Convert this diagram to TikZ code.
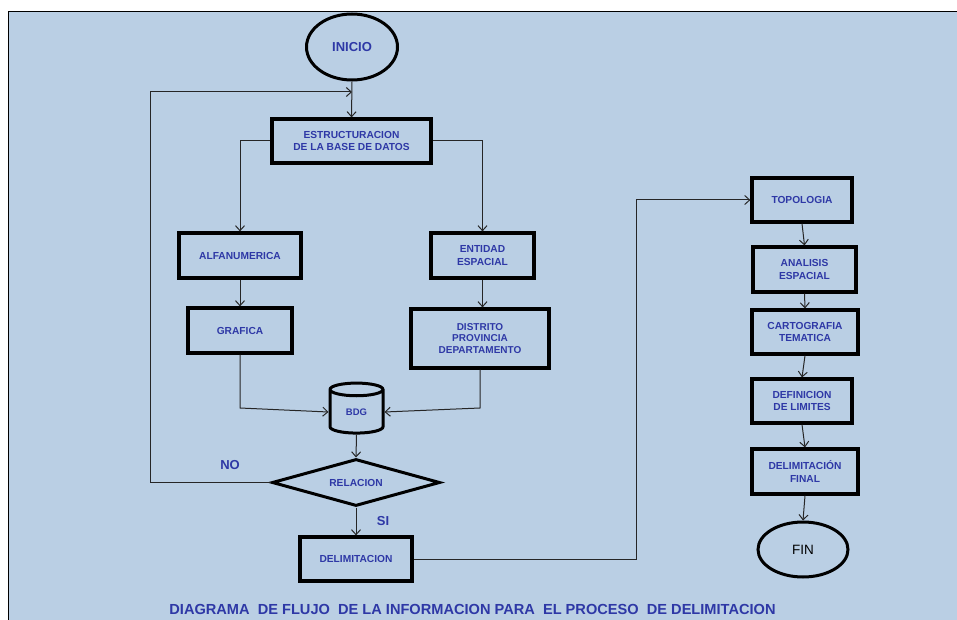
\documentclass[tikz,border=0pt]{standalone}
\usepackage{fontspec}
\setmainfont{Liberation Sans}
\usetikzlibrary{arrows.meta,shapes.geometric,positioning}
\definecolor{bgblue}{RGB}{186,207,228}
\definecolor{txtblue}{RGB}{46,56,166}
\begin{document}
\begin{tikzpicture}[x=1pt,y=-1pt,
  font=\bfseries\fontsize{10.2}{12.6}\selectfont,
  box/.style={draw=black,line width=3.2pt,rectangle,text=txtblue,align=center,inner sep=0pt},
  term/.style={draw=black,line width=3pt,ellipse,inner sep=0pt,font=\bfseries\fontsize{13}{15}\selectfont},
  conn/.style={draw=black!85,line width=1pt},
  arr/.style={conn,-{Straight Barb[length=5pt,width=9pt]}},
  lbl/.style={text=txtblue,font=\bfseries\fontsize{13}{15}\selectfont}]
\useasboundingbox (0,0) rectangle (957,620);
\fill[bgblue] (8,11) rectangle (957,620);
\draw[black,line width=0.8pt] (8,620) -- (8,11) -- (957,11);

% nodes
\node[term,text=txtblue,minimum width=91pt,minimum height=66pt] (inicio) at (352,47) {INICIO};
\node[box,minimum width=159pt,minimum height=44pt] (estr) at (351.5,141) {ESTRUCTURACION\\DE LA BASE DE DATOS};
\node[box,minimum width=122pt,minimum height=45pt] (alfa) at (240,255.5) {ALFANUMERICA};
\node[box,minimum width=104pt,minimum height=45pt] (graf) at (240,330.5) {GRAFICA};
\node[box,minimum width=103pt,minimum height=45pt] (ent) at (482.5,255.5) {ENTIDAD\\ESPACIAL};
\node[box,minimum width=138pt,minimum height=59pt,font=\bfseries\fontsize{10}{11.8}\selectfont] (dist) at (480,338.5) {DISTRITO\\PROVINCIA\\DEPARTAMENTO};
\node[draw=black,line width=3pt,cylinder,shape border rotate=90,aspect=0.6,minimum width=53pt,minimum height=50pt,inner sep=0pt,text=txtblue,font=\bfseries\fontsize{9.5}{11}\selectfont] (bdg) at (356.5,412) {BDG};
\node[draw=black,line width=3pt,diamond,aspect=3.5,minimum width=168pt,minimum height=47pt,inner sep=0pt,text=txtblue] (rel) at (356,482.5) {RELACION};
\node[box,minimum width=112pt,minimum height=44pt] (delim) at (356,559) {DELIMITACION};

\node[box,minimum width=100pt,minimum height=44pt] (topo) at (802,200) {TOPOLOGIA};
\node[box,minimum width=103pt,minimum height=45pt] (anal) at (804.5,269.5) {ANALISIS\\ESPACIAL};
\node[box,minimum width=106pt,minimum height=44pt] (carto) at (805,332) {CARTOGRAFIA\\TEMATICA};
\node[box,minimum width=100pt,minimum height=44pt] (defi) at (802,401) {DEFINICION\\DE LIMITES};
\node[box,minimum width=106pt,minimum height=45pt] (dfin) at (805,471.5) {DELIMITACIÓN\\FINAL};
\node[term,text=black,font=\fontsize{13.5}{15}\selectfont,minimum width=90pt,minimum height=55pt] (fin) at (803,549.5) {FIN};

% labels
\node[lbl] (no) at (230,465) {NO};
\node[lbl] (si) at (383,521) {SI};
\node[text=txtblue,font=\bfseries\fontsize{14.6}{16}\selectfont] (cap) at (472.5,609)
  {DIAGRAMA\ \ DE FLUJO\ \ DE LA\ INFORMACION PARA\ \ EL PROCESO\ \ DE DELIMITACION};

% helper coordinates
\coordinate (loopTL) at (150,92);
\coordinate (joinTop) at (352,92);
\coordinate (gJoin) at (240,408);
\coordinate (dJoin) at (480,408);
\coordinate (turn) at (636,559);

% connectors
\draw[arr] (inicio.south) -- (estr.north);
\draw[arr] (rel.west) -| (loopTL) -- (joinTop);
\draw[arr] (estr.west) -| (alfa.north);
\draw[arr] (estr.east) -| (ent.north);
\draw[arr] (alfa.south) -- (graf.north);
\draw[arr] (ent.south) -- (ent.south |- dist.north);
\draw[arr] (graf.south) -- (gJoin) -- (bdg.west);
\draw[arr] (dist.south) -- (dJoin) -- (bdg.east);
\draw[arr] (bdg.south) -- (rel.north);
\draw[arr] (rel.south) -- (delim.north);
\draw[arr] (delim.east) -- (turn) |- (topo.west);
\draw[arr] (topo.south) -- (anal.north);
\draw[arr] (anal.south) -- (carto.north);
\draw[arr] (carto.south) -- (defi.north);
\draw[arr] (defi.south) -- (dfin.north);
\draw[arr] (dfin.south) -- (fin.north);
\end{tikzpicture}
\end{document}
